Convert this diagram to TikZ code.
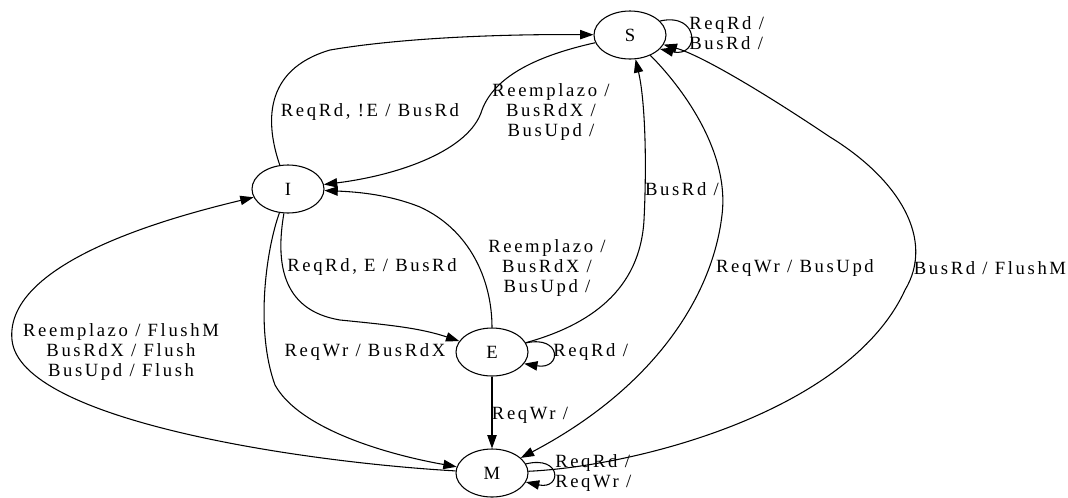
\documentclass[tikz,border=0pt]{standalone}
\usepackage{fontspec}
\setmainfont{Liberation Serif}[LetterSpace=14]
\usetikzlibrary{shapes.geometric,arrows.meta}
\begin{document}
\begin{tikzpicture}[x=0.75pt,y=-0.75pt,
  state/.style={draw,ellipse,line width=0.8pt,minimum width=54pt,minimum height=36pt,inner sep=0pt,font=\fontsize{14pt}{15pt}\selectfont},
  lbl/.style={inner sep=0pt,align=center,font=\fontsize{14pt}{15pt}\selectfont},
  lbll/.style={inner sep=0pt,align=left,anchor=west,font=\fontsize{14pt}{15pt}\selectfont},
  tr/.style={line width=0.8pt,-{Triangle[length=10pt,width=7pt]}}]
\useasboundingbox (0,0) rectangle (1068,497);
\node[state] (S) at (630,35) {S};
\node[state] (I) at (288,189) {I};
\node[state] (E) at (492,352) {E};
\node[state] (M) at (492,473) {M};
% I -> S
\draw[tr] (I) .. controls (266,125) and (262,70) .. (330,50) .. controls (400,38) and (500,34) .. (S);
\node[lbl] (l1) at (370,112) {ReqRd, !E / BusRd};
% S -> I
\draw[tr] (S) .. controls (540,55) and (495,75) .. (482,110) .. controls (470,150) and (400,175) .. (I);
\node[lbl] (l2) at (551,112) {Reemplazo /\\BusRdX /\\BusUpd /};
% I -> E
\draw[tr] (I) .. controls (276,260) and (280,310) .. (340,320) .. controls (390,325) and (420,328) .. (E);
\node[lbl] (l3) at (372,267) {ReqRd, E / BusRd};
% E -> I
\draw[tr] (E) .. controls (492,280) and (470,230) .. (420,207) .. controls (390,195) and (360,192) .. (I);
\node[lbl] (l4) at (547,268) {Reemplazo /\\BusRdX /\\BusUpd /};
% I -> M
\draw[tr] (I) .. controls (266,250) and (255,330) .. (275,385) .. controls (300,430) and (390,455) .. (M);
\node[lbl] (l5) at (365,352) {ReqWr / BusRdX};
% M -> I
\coordinate (lw) at (12,340);
\draw[tr] (M) .. controls (300,462) and (20,420) .. (lw) .. controls (4,260) and (180,215) .. (I);
\node[lbl] (l6) at (121,352) {Reemplazo / FlushM\\BusRdX / Flush\\BusUpd / Flush};
% S -> M
\draw[tr] (S) .. controls (680,85) and (730,150) .. (722,215) .. controls (712,300) and (650,390) .. (M);
\node[lbl] (l7) at (795,268) {ReqWr / BusUpd};
% M -> S
\draw[tr] (M) .. controls (640,466) and (850,410) .. (905,290) .. controls (935,240) and (900,180) .. (830,137) .. controls (760,90) and (700,55) .. (S);
\node[lbl] (l8) at (990,268) {BusRd / FlushM};
% E -> S
\draw[tr] (E) .. controls (590,325) and (640,290) .. (644,220) .. controls (647,160) and (645,100) .. (S);
\node[lbl] (l9) at (682,189) {BusRd /};
% E -> M
\draw[tr] (E) -- (M);
\node[lbl] (l11) at (530,415) {ReqWr /};
% loops
\draw[tr] (S.25) .. controls (700,12) and (700,58) .. (S.-25);
\node[lbll] (l12) at (689,33) {ReqRd /\\BusRd /};
\draw[tr] (E.15) .. controls (562,335) and (562,370) .. (E.-20);
\node[lbll] (l10) at (553,352) {ReqRd /};
\draw[tr] (M.15) .. controls (562,455) and (562,490) .. (M.-15);
\node[lbll] (l13) at (555,473) {ReqRd /\\ReqWr /};
\end{tikzpicture}
\end{document}
